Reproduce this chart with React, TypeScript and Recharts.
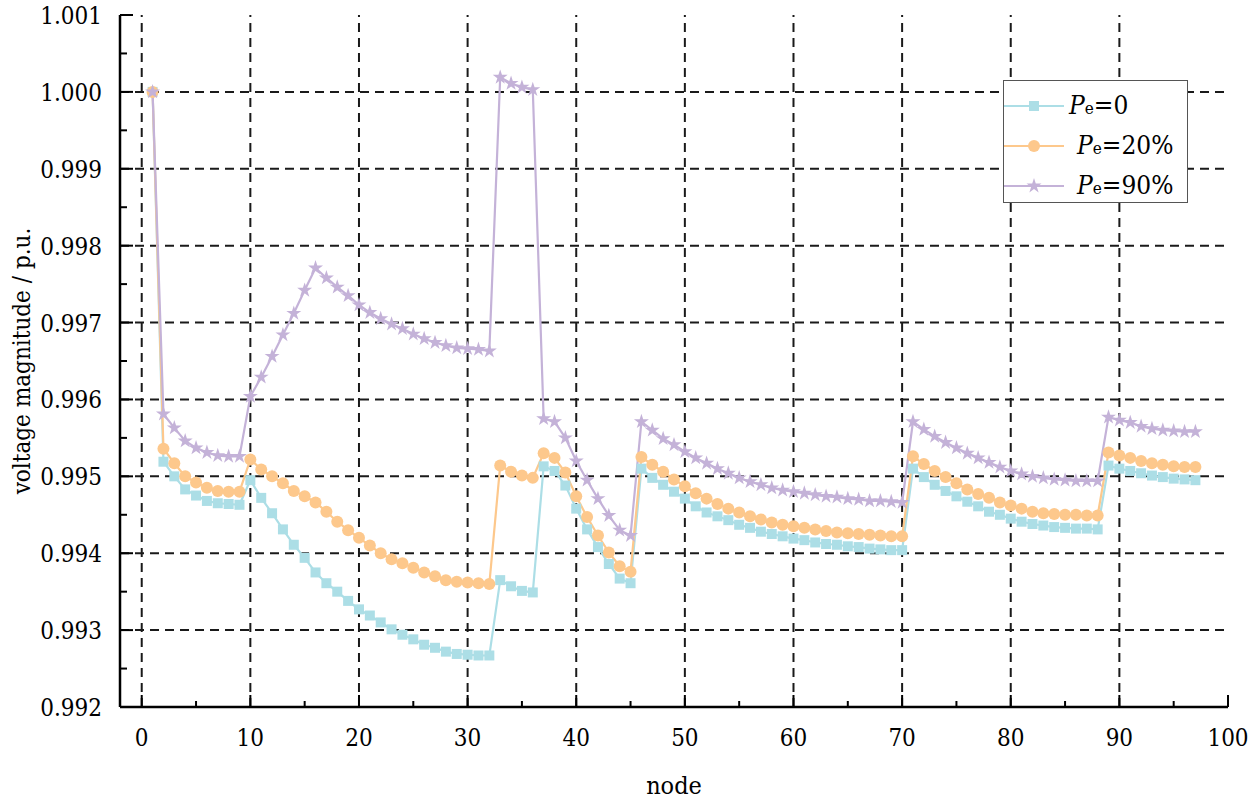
import React from 'react';
import {
  LineChart,
  Line,
  XAxis,
  YAxis,
  ReferenceLine,
  Legend,
  Symbols,
} from 'recharts';

const FONT = "'DejaVu Serif', serif";
const TEXT_STYLE = { fontFamily: FONT, fontStretch: 'condensed' as const };

// voltage per node
const PE0 = [
  1.0, 0.99519, 0.995, 0.99483, 0.99475, 0.99468, 0.99465, 0.99464, 0.99463, 0.99495,
  0.99472, 0.99452, 0.99431, 0.99411, 0.99394, 0.99375, 0.99361, 0.9935, 0.99338, 0.99327,
  0.99319, 0.9931, 0.99301, 0.99294, 0.99288, 0.99281, 0.99277, 0.99272, 0.99269, 0.99268,
  0.99267, 0.99267, 0.99365, 0.99357, 0.99351, 0.99349, 0.99513, 0.99507, 0.99488, 0.99458,
  0.99431, 0.99408, 0.99386, 0.99367, 0.99361, 0.9951, 0.99498, 0.99489, 0.9948, 0.99471,
  0.99461, 0.99453, 0.99448, 0.99443, 0.99437, 0.99433, 0.99428, 0.99425, 0.99422, 0.99419,
  0.99417, 0.99414, 0.99412, 0.99411, 0.99409, 0.99408, 0.99406, 0.99405, 0.99404, 0.99404,
  0.9951, 0.99499, 0.99489, 0.99481, 0.99474, 0.99467, 0.99461, 0.99454, 0.9945, 0.99445,
  0.99441, 0.99438, 0.99436, 0.99434, 0.99433, 0.99432, 0.99432, 0.99431, 0.99514, 0.9951,
  0.99507, 0.99504, 0.99501, 0.99499, 0.99497, 0.99496, 0.99495,
];

const PE20 = [
  1.0, 0.99536, 0.99517, 0.995, 0.99492, 0.99485, 0.99481, 0.9948, 0.9948, 0.99522,
  0.99509, 0.995, 0.99491, 0.99481, 0.99474, 0.99466, 0.99454, 0.99441, 0.9943, 0.9942,
  0.9941, 0.994, 0.99392, 0.99387, 0.99381, 0.99375, 0.9937, 0.99365, 0.99363, 0.99362,
  0.99361, 0.9936, 0.99514, 0.99506, 0.99501, 0.99498, 0.9953, 0.99524, 0.99505, 0.99474,
  0.99447, 0.99423, 0.99401, 0.99383, 0.99376, 0.99525, 0.99515, 0.99506, 0.99496, 0.99487,
  0.99478, 0.99471, 0.99464, 0.99458, 0.99453, 0.99448, 0.99444, 0.9944, 0.99437, 0.99435,
  0.99433, 0.99431, 0.99429, 0.99427, 0.99426, 0.99425, 0.99424, 0.99423, 0.99422, 0.99422,
  0.99526, 0.99516, 0.99507, 0.99499, 0.99491, 0.99483, 0.99477, 0.99472, 0.99466, 0.99462,
  0.99458, 0.99454, 0.99452, 0.99451, 0.9945, 0.9945, 0.99449, 0.99449, 0.99531, 0.99527,
  0.99524, 0.9952, 0.99517, 0.99515, 0.99513, 0.99512, 0.99512,
];

const PE90 = [
  1.0, 0.99581, 0.99563, 0.99546, 0.99537, 0.99531, 0.99527, 0.99526, 0.99526, 0.99604,
  0.99629, 0.99656, 0.99684, 0.99712, 0.99742, 0.99771, 0.99758, 0.99746, 0.99735, 0.99723,
  0.99713, 0.99705, 0.99698, 0.99692, 0.99685, 0.99679, 0.99674, 0.9967, 0.99667, 0.99666,
  0.99665, 0.99663, 1.00019, 1.00011, 1.00006, 1.00003, 0.99575, 0.99571, 0.9955, 0.9952,
  0.99495, 0.99471, 0.99449, 0.9943, 0.99423, 0.99571, 0.9956, 0.99549, 0.99541, 0.99532,
  0.99524, 0.99517, 0.9951, 0.99504, 0.99498, 0.99493, 0.99489, 0.99485, 0.99482, 0.9948,
  0.99478, 0.99476, 0.99474, 0.99473, 0.99471, 0.9947, 0.99468, 0.99468, 0.99467, 0.99466,
  0.99571, 0.99561, 0.99552, 0.99544, 0.99537, 0.9953, 0.99524, 0.99518, 0.99512, 0.99507,
  0.99503, 0.995, 0.99498, 0.99496, 0.99495, 0.99494, 0.99494, 0.99494, 0.99577, 0.99573,
  0.9957, 0.99565, 0.99562, 0.9956, 0.99559, 0.99558, 0.99558,
];

const NODES = PE0.map((_, i) => i + 1);

const X_TICKS = [0, 5, 10, 15, 20, 25, 30, 35, 40, 45, 50, 55, 60, 65, 70, 75, 80, 85, 90, 95, 100];
const Y_TICKS = [
  0.992, 0.9925, 0.993, 0.9935, 0.994, 0.9945, 0.995, 0.9955, 0.996, 0.9965,
  0.997, 0.9975, 0.998, 0.9985, 0.999, 0.9995, 1.0, 1.0005, 1.001,
];
const X_GRID = [0, 10, 20, 30, 40, 50, 60, 70, 80, 90];
const Y_GRID = [0.993, 0.994, 0.995, 0.996, 0.997, 0.998, 0.999, 1.0];

const SERIES = [
  { key: 'pe0', label: '0', color: '#acdee6', shape: 'square', size: 10 },
  { key: 'pe20', label: '20%', color: '#fdc88c', shape: 'circle', size: 12 },
  { key: 'pe90', label: '90%', color: '#c4b2d8', shape: 'star', size: 15 },
] as const;

const data = NODES.map((node, i) => ({
  node,
  pe0: PE0[i],
  pe20: PE20[i],
  pe90: PE90[i],
}));

const XTick = (props: any) => {
  const { x, y, payload } = props;
  const major = payload.value % 10 === 0;
  return (
    <g>
      <line x1={x} x2={x} y1={y} y2={y - (major ? 12 : 6)} stroke="#000" strokeWidth={2} />
      {major && (
        <text x={x} y={y + 39} textAnchor="middle" style={TEXT_STYLE} fontSize={24} fill="#000">
          {payload.value}
        </text>
      )}
    </g>
  );
};

const YTick = (props: any) => {
  const { x, y, payload } = props;
  const major = Math.round(payload.value * 2000) % 2 === 0;
  return (
    <g>
      <line x1={x} x2={x + (major ? 13 : 7)} y1={y} y2={y} stroke="#000" strokeWidth={2} />
      {major && (
        <text x={x - 18} y={y + 9} textAnchor="end" style={TEXT_STYLE} fontSize={24} fill="#000">
          {payload.value.toFixed(3)}
        </text>
      )}
    </g>
  );
};

const YTitle = (props: any) => {
  const { viewBox } = props;
  const cy = viewBox.y + viewBox.height / 2;
  return (
    <text
      x={22}
      y={cy}
      transform={`rotate(-90, 22, ${cy})`}
      textAnchor="middle"
      dominantBaseline="central"
      style={TEXT_STYLE}
      fontSize={24}
      fill="#000"
    >
      voltage magnitude / p.u.
    </text>
  );
};

const XTitle = (props: any) => {
  const { viewBox } = props;
  return (
    <text
      x={viewBox.x + viewBox.width / 2}
      y={794}
      textAnchor="middle"
      style={TEXT_STYLE}
      fontSize={25}
      fill="#000"
    >
      node
    </text>
  );
};

const makeDot = (s: (typeof SERIES)[number]) => (props: any) => {
  const { cx, cy, index } = props;
  return (
    <Symbols
      key={`${s.key}-${index}`}
      cx={cx}
      cy={cy}
      type={s.shape}
      size={s.size}
      sizeType="diameter"
      fill={s.color}
    />
  );
};

const LegendBox = () => (
  <div
    style={{
      position: 'relative',
      width: 183,
      height: 121,
      border: '1.5px solid #555',
      background: '#fff',
      ...TEXT_STYLE,
    }}
  >
    {SERIES.map((s, i) => (
      <div
        key={s.key}
        style={{ position: 'absolute', left: 0, top: 10 + i * 40, height: 30, display: 'flex', alignItems: 'center' }}
      >
        <svg width={62} height={30}>
          <line x1={0} x2={60} y1={15} y2={15} stroke={s.color} strokeWidth={2} />
          <Symbols cx={30} cy={15} type={s.shape} size={s.size} sizeType="diameter" fill={s.color} />
        </svg>
        <span style={{ fontSize: 26, color: '#000', marginLeft: i === 0 ? 3 : 11, whiteSpace: 'nowrap', lineHeight: '30px' }}>
          <i>P</i>
          <span style={{ fontSize: 17 }}>e</span>={s.label}
        </span>
      </div>
    ))}
  </div>
);

export default function App() {
  return (
    <div style={{ position: 'absolute', left: 0, top: 0, width: 1250, height: 801, background: '#fff' }}>
      <LineChart width={1250} height={801} data={data} margin={{ top: 15, right: 22, bottom: 0, left: 0 }}>
        {X_GRID.map((v) => (
          <ReferenceLine key={`gx-${v}`} x={v} stroke="#1a1a1a" strokeWidth={2} strokeDasharray="9 6" />
        ))}
        {Y_GRID.map((v) => (
          <ReferenceLine key={`gy-${v}`} y={v} stroke="#1a1a1a" strokeWidth={2} strokeDasharray="9 6" />
        ))}
        <XAxis
          dataKey="node"
          type="number"
          domain={[-2, 100]}
          ticks={X_TICKS}
          interval={0}
          height={94}
          tick={<XTick />}
          tickLine={false}
          tickSize={0}
          tickMargin={0}
          axisLine={{ stroke: '#000', strokeWidth: 2.5 }}
          allowDataOverflow
          label={<XTitle />}
        />
        <YAxis
          type="number"
          domain={[0.992, 1.001]}
          ticks={Y_TICKS}
          interval={0}
          width={120}
          tick={<YTick />}
          tickLine={false}
          tickSize={0}
          tickMargin={0}
          axisLine={{ stroke: '#000', strokeWidth: 2.5 }}
          allowDataOverflow
          label={<YTitle />}
        />
        {SERIES.map((s) => (
          <Line
            key={s.key}
            dataKey={s.key}
            type="linear"
            stroke={s.color}
            strokeWidth={2.2}
            dot={makeDot(s)}
            activeDot={false}
            isAnimationActive={false}
          />
        ))}
        <Legend
          layout="vertical"
          align="center"
          verticalAlign="middle"
          content={() => <LegendBox />}
          wrapperStyle={{ left: 1003, top: 80, width: 186 }}
        />
      </LineChart>
    </div>
  );
}
